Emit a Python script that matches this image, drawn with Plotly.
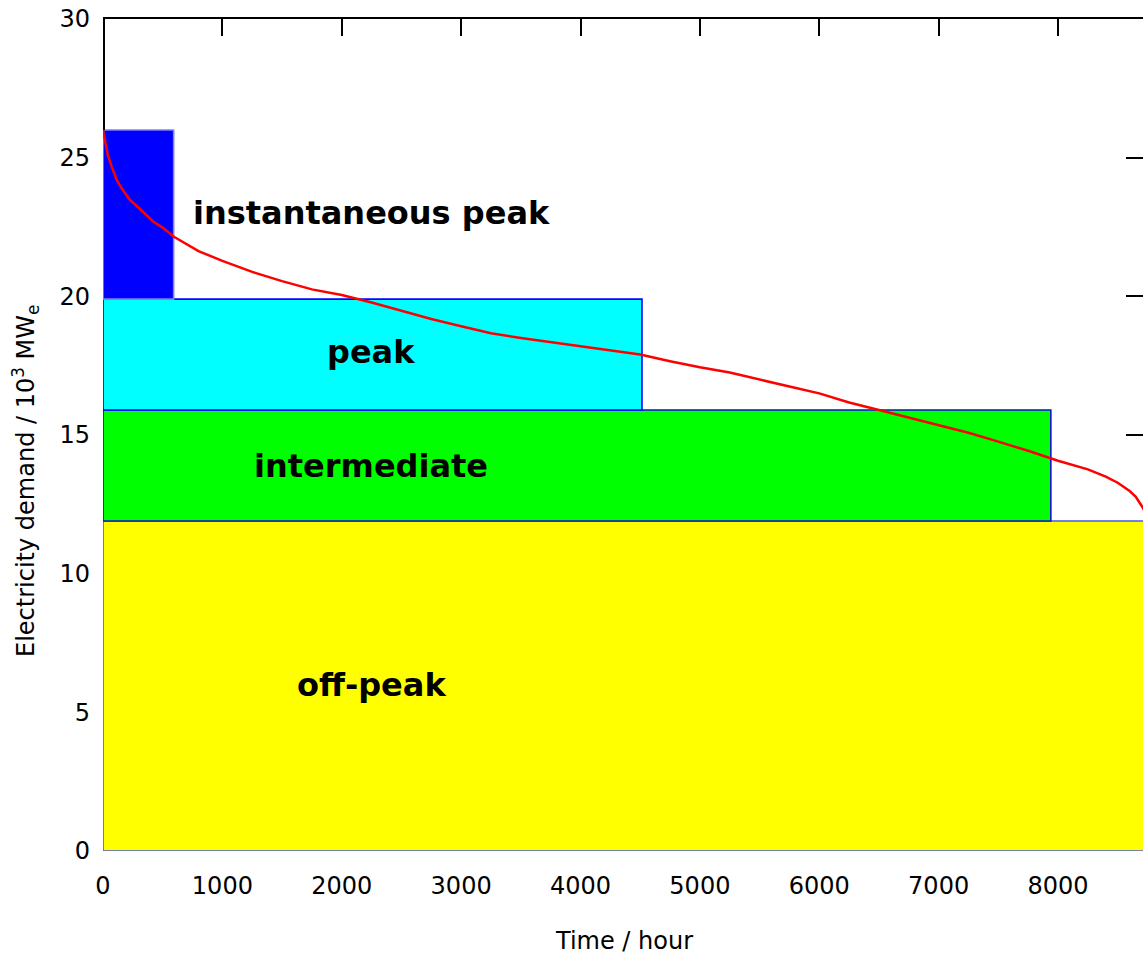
import plotly.graph_objects as go

# ---- data ----
hours = [0, 20, 40, 75, 115, 155, 225, 310, 420, 505, 594, 800, 1000, 1250, 1500,
         1750, 2000, 2250, 2500, 2750, 3000, 3250, 3500, 3750, 4000, 4250, 4500,
         4750, 5000, 5250, 5500, 5750, 6000, 6250, 6500, 6750, 7000, 7250, 7500,
         7750, 8000, 8250, 8400, 8500, 8600, 8650, 8700, 8720]
demand = [26.0, 25.5, 25.1, 24.65, 24.2, 23.9, 23.48, 23.15, 22.7, 22.46, 22.15,
          21.63, 21.28, 20.88, 20.55, 20.25, 20.05, 19.78, 19.48, 19.18, 18.92,
          18.67, 18.5, 18.35, 18.2, 18.06, 17.9, 17.66, 17.44, 17.25, 17.01, 16.75,
          16.5, 16.17, 15.9, 15.63, 15.36, 15.08, 14.76, 14.43, 14.07, 13.76, 13.5,
          13.28, 12.98, 12.78, 12.45, 12.3]

band_names = ["off-peak", "intermediate", "peak", "instantaneous peak"]
band_x_end = [8760, 7940, 4515, 592]
band_y_low = [0, 11.9, 15.9, 19.9]
band_y_high = [11.9, 15.9, 19.9, 26.0]
band_fill = ["#ffff00", "#00ff00", "#00ffff", "#0000ff"]
band_edge = ["#4a5af0", "#1010d0", "#0000ff", "#8080ff"]
label_x = [2245, 2245, 2245, 2245]
label_y = [6.0, 13.9, 18.0, 23.0]

x_ticks = [0, 1000, 2000, 3000, 4000, 5000, 6000, 7000, 8000]
y_ticks = [0, 5, 10, 15, 20, 25, 30]
x_range = [0, 8712]
y_range = [0, 30]

FONT = "DejaVu Sans"

fig = go.Figure()

for i in range(len(band_names)):
    x1 = band_x_end[i]
    y0, y1 = band_y_low[i], band_y_high[i]
    fig.add_trace(go.Scatter(
        x=[0, x1, x1, 0, 0], y=[y0, y0, y1, y1, y0],
        mode="lines", fill="toself", fillcolor=band_fill[i],
        line=dict(color=band_edge[i], width=1.6),
        hoverinfo="skip", showlegend=False, name=band_names[i]))

# visible part of the left frame line (above the stacked bands)
fig.add_trace(go.Scatter(
    x=[x_range[0], x_range[0]], y=[max(band_y_high), y_range[1]],
    mode="lines", line=dict(color="black", width=4),
    hoverinfo="skip", showlegend=False))

fig.add_trace(go.Scatter(
    x=hours, y=demand, mode="lines",
    line=dict(color="#ff0000", width=2.5),
    showlegend=False, name="demand"))

# invisible trace for mirror axes
fig.add_trace(go.Scatter(x=[None], y=[None], xaxis="x2", yaxis="y2",
                         showlegend=False, hoverinfo="skip"))

for i in range(len(band_names)):
    fig.add_annotation(x=label_x[i], y=label_y[i], text="<b>%s</b>" % band_names[i],
                       showarrow=False, xanchor="center", yanchor="middle",
                       font=dict(family=FONT, size=32, color="black"))

fig.add_annotation(xref="paper", yref="paper", x=0.501, y=-0.108,
                   text="Time / hour", showarrow=False,
                   xanchor="center", yanchor="middle",
                   font=dict(family=FONT, size=24, color="black"))
fig.add_annotation(xref="paper", yref="paper", x=-0.075, y=0.4447,
                   text="Electricity demand / 10<sup>3</sup> MW<sub>e</sub>",
                   showarrow=False, textangle=-90,
                   xanchor="center", yanchor="middle",
                   font=dict(family=FONT, size=24, color="black"))

fig.update_layout(
    width=1143, height=958,
    margin=dict(l=103, r=0, t=19, b=107),
    paper_bgcolor="white", plot_bgcolor="white",
    font=dict(family=FONT, size=24, color="black"),
    xaxis=dict(range=x_range, tickvals=x_ticks, showgrid=False, zeroline=False,
               showline=False, ticks="", ticklabelstandoff=18,
               tickfont=dict(size=24), layer="below traces"),
    yaxis=dict(range=y_range, tickvals=y_ticks, showgrid=False, zeroline=False,
               showline=False,
               ticks="inside", ticklen=17, tickwidth=1.5, tickcolor="black",
               ticklabelstandoff=12, tickfont=dict(size=24), layer="below traces"),
    xaxis2=dict(overlaying="x", side="top", range=x_range, tickvals=x_ticks,
                showgrid=False, zeroline=False, showline=True, linecolor="black",
                linewidth=2, ticks="inside", ticklen=17, tickwidth=1.5,
                tickcolor="black", showticklabels=False),
    yaxis2=dict(overlaying="y", side="right", range=y_range, tickvals=[15, 20, 25],
                showgrid=False, zeroline=False, showline=False,
                ticks="inside", ticklen=17, tickwidth=1.5, tickcolor="black",
                showticklabels=False),
)

fig.write_html("out.html")
